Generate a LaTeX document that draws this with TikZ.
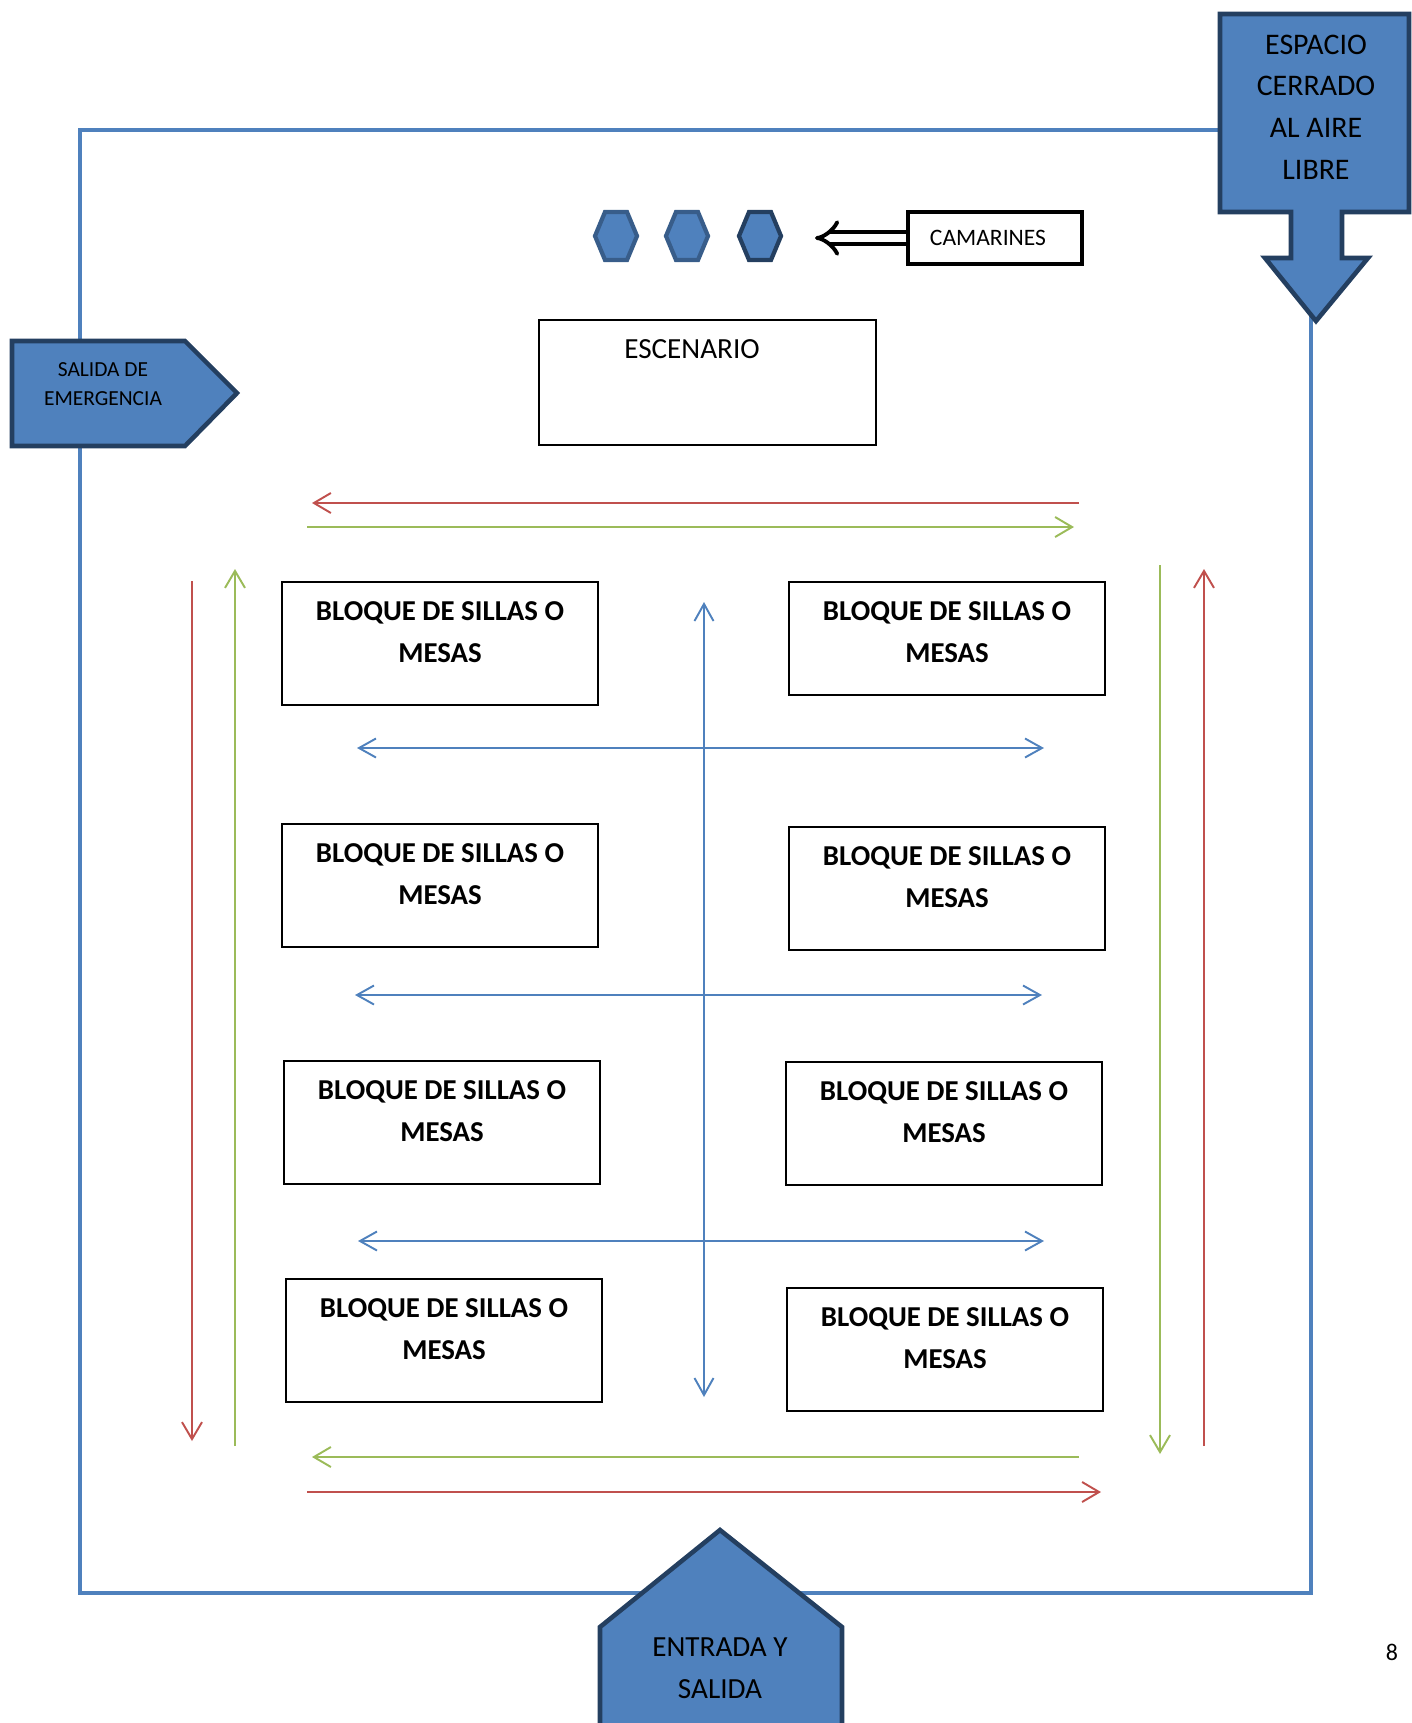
\documentclass[tikz,border=0pt]{standalone}
\usepackage{fontspec}
\setmainfont{Carlito}
\usetikzlibrary{arrows.meta}

\definecolor{azul}{HTML}{4F81BD}
\definecolor{azulmedio}{HTML}{385D8A}
\definecolor{azuloscuro}{HTML}{243F60}
\definecolor{rojo}{HTML}{C0504D}
\definecolor{verde}{HTML}{9BBB59}

\begin{document}
\begin{tikzpicture}[x=0.01cm, y=-0.01cm,
        forma/.style={fill=azul, draw=azuloscuro, line width=1.3pt},
        bloque/.style={draw, line width=0.45pt, minimum width=3.16cm, minimum height=1.23cm, anchor=north, align=center,
            font=\fontsize{8.2}{11.9}\selectfont\bfseries, execute at end node={\rule[-#1]{0pt}{0.1cm}}},
        bloque/.default=0.23cm,
        flecha/.style={line width=0.55pt, -{Straight Barb[length=0.17cm, width=0.2cm]}},
        pasillo/.style={flecha, azul, {Straight Barb[length=0.17cm, width=0.19cm]}-{Straight Barb[length=0.17cm, width=0.19cm]}}]
    \useasboundingbox (0,0) rectangle (1412,1723);

    % recinto
    \draw[azul, line width=1.3pt] (80,130) rectangle (1311,1593);

    % espacio cerrado
    \draw[forma] (1220,14) -- (1409,14) -- (1409,212) -- (1342,212) -- (1342,258) -- (1368,258) -- (1316,321)
        -- (1265,258) -- (1291,258) -- (1291,212) -- (1220,212) -- cycle;
    \node[align=center, font=\fontsize{8.5}{11.85}\selectfont] (espacio) at (1316,107) {ESPACIO\\CERRADO\\AL AIRE\\LIBRE};

    % salida de emergencia
    \draw[forma] (12,341) -- (185,341) -- (237,393) -- (185,446) -- (12,446) -- cycle;
    \node[align=center, font=\fontsize{6.1}{8.45}\selectfont] (salida) at (103,384) {SALIDA DE\\EMERGENCIA};

    % entrada
    \draw[forma] (600,1740) -- (600,1627) -- (720,1530) -- (842,1627) -- (842,1740);
    \node[align=center, font=\fontsize{8.3}{11.9}\selectfont] (entrada) at (720,1668) {ENTRADA Y\\SALIDA};

    % camarines
    \foreach \cx/\borde in {616/azulmedio, 687/azulmedio, 760/azuloscuro}
        \draw[fill=azul, draw=\borde, line width=1.2pt] (\cx-21,236) -- (\cx-11,212) -- (\cx+11,212) -- (\cx+21,236)
            -- (\cx+11,260) -- (\cx-11,260) -- cycle;
    \node[draw, line width=0.9pt, minimum width=1.74cm, minimum height=0.52cm, font=\fontsize{6.7}{8}\selectfont] (camarines) at (995,238) {CAMARINES\hspace*{0.14cm}};
    \coordinate (puerta) at (815,238);
    \draw[line width=1.1pt, double distance=2.3pt, -Implies] (camarines.west) -- (puerta);

    % escenario
    \node[draw, line width=0.45pt, minimum width=3.37cm, minimum height=1.25cm, anchor=north west] (escenario) at (538,319) {};
    \node[font=\fontsize{8.3}{10}\selectfont] (esctexto) at (692,349) {ESCENARIO};

    % bloques
    \node[bloque] (b1) at (440,581) {BLOQUE DE SILLAS O\\MESAS};
    \node[bloque=0.13cm, minimum height=1.13cm] (b2) at (947,581) {BLOQUE DE SILLAS O\\MESAS};
    \node[bloque] (b3) at (440,823) {BLOQUE DE SILLAS O\\MESAS};
    \node[bloque] (b4) at (947,826) {BLOQUE DE SILLAS O\\MESAS};
    \node[bloque] (b5) at (442,1060) {BLOQUE DE SILLAS O\\MESAS};
    \node[bloque] (b6) at (944,1061) {BLOQUE DE SILLAS O\\MESAS};
    \node[bloque] (b7) at (444,1278) {BLOQUE DE SILLAS O\\MESAS};
    \node[bloque] (b8) at (945,1287) {BLOQUE DE SILLAS O\\MESAS};

    % circulacion
    \draw[flecha, rojo] (1079,503) -- (312,503);
    \draw[flecha, verde] (307,527) -- (1074,527);
    \draw[flecha, rojo] (192,581) -- (192,1441);
    \draw[flecha, verde] (235,1446) -- (235,569);
    \draw[flecha, verde] (1160,565) -- (1160,1454);
    \draw[flecha, rojo] (1204,1446) -- (1204,569);
    \draw[flecha, verde] (1079,1457) -- (312,1457);
    \draw[flecha, rojo] (307,1492) -- (1101,1492);

    % pasillos
    \draw[pasillo] (704,602) -- (704,1397);
    \draw[pasillo] (357,748) -- (1044,748);
    \draw[pasillo] (355,995) -- (1042,995);
    \draw[pasillo] (358,1241) -- (1044,1241);

    \node[font=\fontsize{6.8}{8}\selectfont] (pagina) at (1392,1652) {8};
\end{tikzpicture}
\end{document}
